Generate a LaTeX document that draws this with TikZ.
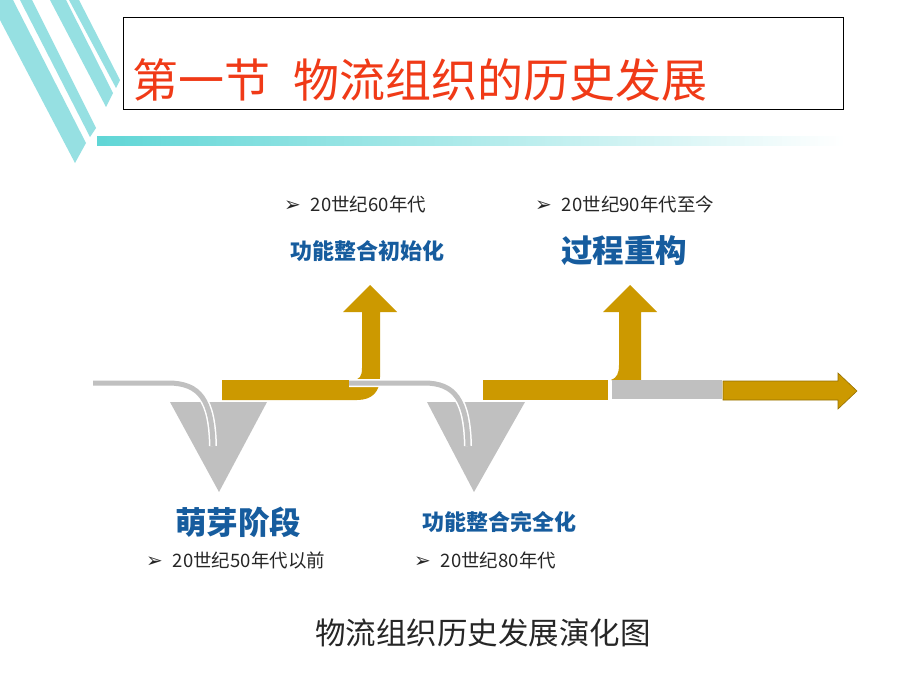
\documentclass[tikz,border=0pt]{standalone}
\usepackage{fontspec}
\usepackage{tikz}
\usetikzlibrary{calc}
\newfontfamily\cjk{Noto Sans CJK SC}
\newfontfamily\bulletfont{DejaVu Sans}
\definecolor{stripe}{RGB}{150,224,226}
\definecolor{barcyan}{RGB}{96,214,214}
\definecolor{titlered}{RGB}{240,58,23}
\definecolor{gold}{RGB}{204,153,0}
\definecolor{darkgold}{RGB}{150,112,0}
\definecolor{vgray}{RGB}{192,192,192}
\definecolor{stageblue}{RGB}{22,92,158}
\definecolor{ink}{RGB}{38,38,38}
\newcommand{\yearitem}[1]{{\bulletfont\fontsize{20}{20}\selectfont ➢}\hspace{10pt}#1}
\tikzset{%
  gband/.style={fill=gold,draw=none},
  vee/.style={fill=vgray,draw=none},
  glink/.style={draw=white,line width=8pt,postaction={draw=vgray,line width=5pt}},
  stagelbl/.style={font=\cjk\bfseries,text=stageblue,inner sep=0},
  yearlbl/.style={font=\cjk\fontsize{18.5}{20}\selectfont,text=ink,inner sep=0,anchor=west}
}
\begin{document}
\begin{tikzpicture}[x=1pt,y=-1pt]
  \useasboundingbox (0,0) rectangle (920,690);
  \fill[white] (0,0) rectangle (920,690);
  % stripes and header
  \begin{scope}
    \fill[stripe] (0,20) -- (0,0) -- (13,0) -- (86,143) -- (75,163) -- cycle;
    \fill[stripe] (20,0) -- (32,0) -- (96,128) -- (90,137) -- cycle;
    \fill[stripe] (50,0) -- (66,0) -- (113,93) -- (106,107) -- cycle;
    \fill[stripe] (69,0) -- (79,0) -- (120,80) -- (116,88) -- cycle;
    \shade[left color=barcyan,right color=white] (97,136) rectangle (845,145);
    \draw[line width=1pt] (123,18) rectangle (843,110);
    \node[anchor=west,inner sep=0,text=titlered,font=\cjk\fontsize{46}{50}\selectfont]
      (title) at (132,80) {第一节\hspace{0.5em}物流组织的历史发展};
  \end{scope}
  % timeline
  \fill[vee] (170,402) -- (267,402) -- (219,492) -- cycle;
  \fill[vee] (427,402) -- (525,402) -- (474,492) -- cycle;
  \fill[gband] (222,380) -- (352,380) .. controls (360,380) and (362,376) .. (362,368)
    -- (362,312) -- (343,312) -- (370,285) -- (397,312) -- (380,312) -- (380,377)
    .. controls (380,392) and (372,400) .. (357,400) -- (222,400) -- cycle;
  \path[glink] (93,383) -- (168,383) .. controls (200,383) and (212,400) .. (213,446);
  \path[glink] (349,383) -- (424,383) .. controls (455,383) and (467,400) .. (468,446);
  \fill[gband] (483,380) rectangle (608,400);
  \fill[gband] (611,380) .. controls (617,378) and (619,373) .. (619,365) -- (619,312)
    -- (603,312) -- (630,285) -- (657,312) -- (641,312) -- (641,380) -- cycle;
  \fill[vgray] (612,380) rectangle (722,399);
  \draw[gband,draw=darkgold,line width=0.6pt] (723,381) -- (838,381) -- (838,373) -- (857,391)
    -- (838,409) -- (838,400) -- (723,400) -- cycle;
  % labels
  \node[yearlbl] (y60) at (284,204) {\yearitem{20世纪60年代}};
  \node[stagelbl,font=\cjk\bfseries\fontsize{22}{24}\selectfont] (s60) at (367,251) {功能整合初始化};
  \node[yearlbl] (y90) at (535,204) {\yearitem{20世纪90年代至今}};
  \node[stagelbl,font=\cjk\bfseries\fontsize{31.5}{34}\selectfont] (s90) at (624,251) {过程重构};
  \node[stagelbl,font=\cjk\bfseries\fontsize{31.5}{34}\selectfont] (s50) at (238,522) {萌芽阶段};
  \node[yearlbl] (y50) at (146,560) {\yearitem{20世纪50年代以前}};
  \node[stagelbl,font=\cjk\bfseries\fontsize{22}{24}\selectfont] (s80) at (499,522) {功能整合完全化};
  \node[yearlbl] (y80) at (414,560) {\yearitem{20世纪80年代}};
  \node[inner sep=0,text=ink,font=\cjk\fontsize{30.5}{33}\selectfont] (cap) at (483,633) {物流组织历史发展演化图};
\end{tikzpicture}
\end{document}
